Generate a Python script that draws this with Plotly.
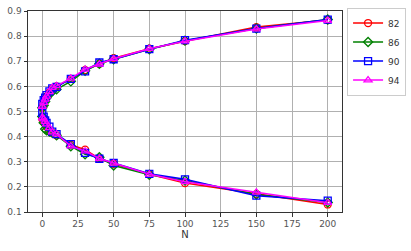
import plotly.graph_objects as go

# N values shared by all series
n_values = [0, 1, 2, 3, 5, 7, 10, 20, 30, 40, 50, 75, 100, 150, 200]

series_names = ["82", "86", "90", "94"]

# upper branch per series
upper_82 = [0.515, 0.530, 0.545, 0.560, 0.575, 0.590, 0.600, 0.630, 0.665, 0.690, 0.712, 0.750, 0.780, 0.836, 0.864]
upper_86 = [0.515, 0.525, 0.540, 0.555, 0.570, 0.580, 0.588, 0.620, 0.662, 0.690, 0.708, 0.748, 0.782, 0.830, 0.866]
upper_90 = [0.530, 0.545, 0.555, 0.565, 0.580, 0.592, 0.598, 0.630, 0.660, 0.695, 0.708, 0.748, 0.784, 0.830, 0.866]
upper_94 = [0.520, 0.535, 0.548, 0.560, 0.578, 0.595, 0.602, 0.632, 0.668, 0.688, 0.710, 0.750, 0.780, 0.828, 0.862]

# lower branch per series
lower_82 = [0.470, 0.460, 0.450, 0.440, 0.425, 0.415, 0.405, 0.368, 0.348, 0.312, 0.292, 0.250, 0.215, 0.172, 0.130]
lower_86 = [0.480, 0.455, 0.430, 0.425, 0.420, 0.415, 0.405, 0.362, 0.330, 0.318, 0.285, 0.248, 0.225, 0.170, 0.138]
lower_90 = [0.495, 0.480, 0.465, 0.455, 0.440, 0.420, 0.410, 0.370, 0.335, 0.312, 0.295, 0.252, 0.230, 0.165, 0.145]
lower_94 = [0.475, 0.470, 0.460, 0.450, 0.435, 0.418, 0.410, 0.362, 0.342, 0.313, 0.294, 0.250, 0.220, 0.178, 0.137]

uppers = [upper_82, upper_86, upper_90, upper_94]
lowers = [lower_82, lower_86, lower_90, lower_94]
colors = ["red", "green", "blue", "magenta"]
symbols = ["circle-open", "diamond-open", "square-open", "triangle-up-open"]

fig = go.Figure()
for name, up, lo, c, s in zip(series_names, uppers, lowers, colors, symbols):
    # lower branch from 200 back to 0, then upper branch out to 200
    xs = n_values[::-1] + n_values
    ys = lo[::-1] + up
    fig.add_trace(go.Scatter(
        x=xs, y=ys, name=name, mode="lines+markers",
        line=dict(color=c, width=1.5),
        marker=dict(symbol=s, size=7, color=c, line=dict(width=1.3, color=c)),
    ))

axis_common = dict(
    showgrid=True, gridcolor="#b0b0b0", gridwidth=1,
    showline=True, linecolor="#333333", linewidth=1, mirror=True,
    ticks="outside", ticklen=3.5, tickcolor="#333333",
    tickfont=dict(family="DejaVu Sans", size=9, color="#555555"),
    zeroline=False, automargin=False,
)

fig.update_layout(
    width=411, height=251,
    margin=dict(l=28, r=69, t=11, b=39),
    paper_bgcolor="white", plot_bgcolor="white",
    font=dict(family="DejaVu Sans", size=9, color="#333333"),
    xaxis=dict(range=[-10, 210], tickvals=[0, 25, 50, 75, 100, 125, 150, 175, 200],
               title=dict(text="N", standoff=2, font=dict(size=10)), **axis_common),
    yaxis=dict(range=[0.1, 0.9], dtick=0.1, tickformat=".1f", **axis_common),
    legend=dict(xref="container", yref="container", x=0.988, y=0.97,
                xanchor="right", yanchor="top",
                bordercolor="#cccccc", borderwidth=1, bgcolor="white",
                font=dict(size=9, color="#333333"), tracegroupgap=0,
                itemwidth=30),
)

# drop the page's default body margin so the figure sits at the window corner
fig.write_html("out.html", config={"displayModeBar": False},
               post_script="document.body.style.margin='0';")
